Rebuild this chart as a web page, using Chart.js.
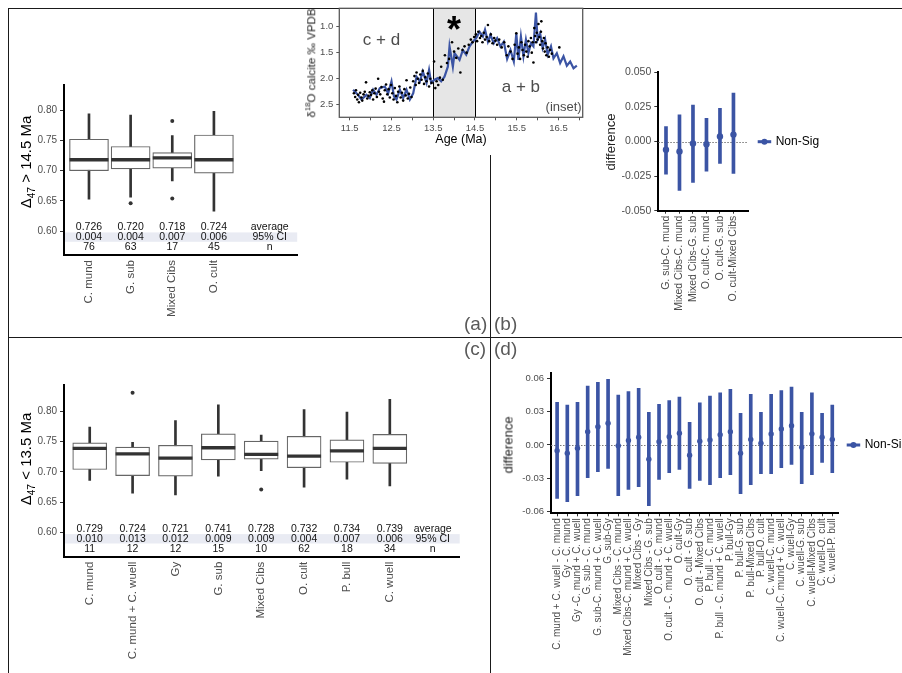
<!DOCTYPE html>
<html>
<head>
<meta charset="utf-8">
<script src="https://cdn.jsdelivr.net/npm/chart.js@4/dist/chart.umd.min.js"></script>
<style>
    html, body { margin: 0; padding: 0; background: #fff; }
    body { width: 902px; height: 673px; position: relative; overflow: hidden; font-family: "Liberation Sans", Arial, sans-serif; }
    .pane { position: absolute; }
    .rule { position: absolute; background: #1a1a1a; }
    .ytitle { position: absolute; transform: translate(-50%, -50%) rotate(-90deg); white-space: nowrap; color: #000; line-height: 1; font-weight: normal; }
    .xtitle { position: absolute; transform: translate(-50%, -50%); white-space: nowrap; color: #000; line-height: 1; font-weight: normal; }
    .ytitle sub, .ytitle sup { font-size: 68%; line-height: 0; }
    .tag { position: absolute; font-size: 19px; color: #595959; line-height: 1; }
</style>
</head>
<body>

<div class="rule" style="left:8px; top:8px; width:894px; height:1px;"></div>
<div class="rule" style="left:8px; top:8px; width:1px; height:665px;"></div>
<div class="rule" style="left:8px; top:337px; width:894px; height:1px;"></div>
<div class="rule" style="left:490px; top:155px; width:1px; height:518px;"></div>

<div class="pane" style="left:10px; top:62px;"><canvas id="chart-a" width="310" height="270"></canvas></div>
<div class="pane" style="left:595px; top:62px;"><canvas id="chart-b" width="300" height="260"></canvas></div>
<div class="pane" style="left:10px; top:365px;"><canvas id="chart-c" width="470" height="305"></canvas></div>
<div class="pane" style="left:495px; top:365px;"><canvas id="chart-d" width="407" height="308"></canvas></div>
<div class="pane" style="left:300px; top:0px;"><canvas id="chart-inset" width="290" height="150"></canvas></div>

<div class="ytitle" style="left:25px; top:162px; font-size:15px;">Δ<sub>47</sub> &gt; 14.5 Ma</div>
<div class="ytitle" style="left:25px; top:459px; font-size:15px;">Δ<sub>47</sub> &lt; 13.5 Ma</div>
<div class="ytitle" style="left:610px; top:142px; font-size:13px; color:#222;">difference</div>
<div class="ytitle" style="left:508px; top:445px; font-size:13px; color:#222;">difference</div>
<div class="ytitle" style="left:312px; top:63px; font-size:11.5px; color:#222;">δ<sup>18</sup>O calcite ‰ VPDB</div>
<div class="xtitle" style="left:461px; top:139px; font-size:12.5px;">Age (Ma)</div>

<div class="tag" style="left:464px; top:314px;">(a)</div>
<div class="tag" style="left:494px; top:314px;">(b)</div>
<div class="tag" style="left:464px; top:339px;">(c)</div>
<div class="tag" style="left:494px; top:339px;">(d)</div>

<script>
// Δ47 boxplots, pairwise differences and the δ18O inset

const BLUE = '#3b54a4';
const FONT = '"Liberation Sans", Arial, sans-serif';

// ---- panel (a): > 14.5 Ma ----
const catsA = ['C. mund', 'G. sub', 'Mixed Cibs', 'O. cult'];
const lowA = [0.653, 0.656, 0.683, 0.633];
const q1A = [0.700, 0.703, 0.704, 0.696];
const medA = [0.718, 0.718, 0.721, 0.718];
const q3A = [0.752, 0.740, 0.730, 0.759];
const highA = [0.794, 0.792, 0.758, 0.798];
const outCatA = [2, 3, 3];
const outValA = [0.646, 0.782, 0.654];
const avgA = ['0.726', '0.720', '0.718', '0.724'];
const ciA = ['0.004', '0.004', '0.007', '0.006'];
const nA = ['76', '63', '17', '45'];

// ---- panel (c): < 13.5 Ma ----
const catsC = ['C. mund', 'C. mund + C. wuell', 'Gy', 'G. sub', 'Mixed Cibs', 'O. cult', 'P. bull', 'C. wuell'];
const lowC = [0.686, 0.665, 0.662, 0.693, 0.702, 0.675, 0.688, 0.677];
const q1C = [0.704, 0.694, 0.693, 0.720, 0.721, 0.707, 0.716, 0.714];
const medC = [0.739, 0.730, 0.723, 0.740, 0.729, 0.726, 0.735, 0.739];
const q3C = [0.748, 0.741, 0.744, 0.763, 0.751, 0.759, 0.753, 0.762];
const highC = [0.774, 0.749, 0.785, 0.811, 0.761, 0.803, 0.799, 0.820];
const outCatC = [2, 5];
const outValC = [0.831, 0.671];
const avgC = ['0.729', '0.724', '0.721', '0.741', '0.728', '0.732', '0.734', '0.739'];
const ciC = ['0.010', '0.013', '0.012', '0.009', '0.009', '0.004', '0.007', '0.006'];
const nC = ['11', '12', '12', '15', '10', '62', '18', '34'];

const boxTicks = [0.60, 0.65, 0.70, 0.75, 0.80];

// ---- panel (b): pairwise differences, > 14.5 Ma ----
const pairsB = ['G. sub-C. mund', 'Mixed Cibs-C. mund', 'Mixed Cibs-G. sub', 'O. cult-C. mund', 'O. cult-G. sub', 'O. cult-Mixed Cibs'];
const diffB = [-0.0060, -0.0072, -0.0014, -0.0020, 0.0036, 0.0050];
const lwrB = [-0.0236, -0.0353, -0.0296, -0.0214, -0.0159, -0.0230];
const uprB = [0.0108, 0.0192, 0.0264, 0.0168, 0.0240, 0.0350];
const ticksB = [-0.050, -0.025, 0, 0.025, 0.050];

// ---- panel (d): pairwise differences, < 13.5 Ma ----
const pairsD = [
    'C. mund + C. wuell - C. mund', 'Gy - C. mund', 'Gy -C. mund + C. wuell', 'G. sub - C. mund',
    'G. sub-C. mund + C. wuell', 'G. sub-Gy', 'Mixed Cibs - C. mund', 'Mixed Cibs-C. mund + C. wuell',
    'Mixed Cibs - Gy', 'Mixed Cibs - G. sub', 'O. cult - C. mund', 'O. cult - C. mund + C. wuell',
    'O. cult-Gy', 'O. cult - G. sub', 'O. cult - Mixed Cibs', 'P. bull - C. mund',
    'P. bull - C. mund + C. wuell', 'P. bull-Gy', 'P. bull-G. sub', 'P. bull-Mixed Cibs',
    'P. bull-O. cult', 'C. wuell-C. mund', 'C. wuell-C. mund + C. wuell', 'C. wuell-Gy',
    'C. wuell-G. sub', 'C. wuell-Mixed Cibs', 'C. wuell-O. cult', 'C. wuell-P. bull'
];
const diffD = [-0.0051, -0.0075, -0.0030, 0.0120, 0.0165, 0.0195, -0.0006, 0.0040, 0.0070, -0.0129,
    0.0030, 0.0075, 0.0105, -0.0093, 0.0033, 0.0045, 0.0093, 0.0120, -0.0075, 0.0050,
    0.0015, 0.0099, 0.0144, 0.0174, -0.0020, 0.0100, 0.0070, 0.0050];
const uprD = [0.0384, 0.0360, 0.0384, 0.0530, 0.0564, 0.0590, 0.0450, 0.0480, 0.0510, 0.0294,
    0.0366, 0.0400, 0.0430, 0.0204, 0.0380, 0.0440, 0.0470, 0.0500, 0.0285, 0.0456,
    0.0294, 0.0456, 0.0490, 0.0520, 0.0294, 0.0470, 0.0285, 0.0360];
const lwrD = [-0.0480, -0.0510, -0.0456, -0.0294, -0.0240, -0.0210, -0.0456, -0.0400, -0.0375, -0.0546,
    -0.0310, -0.0250, -0.0220, -0.0390, -0.0320, -0.0357, -0.0294, -0.0267, -0.0438, -0.0357,
    -0.0258, -0.0258, -0.0204, -0.0174, -0.0348, -0.0267, -0.0156, -0.0250];
const ticksD = [-0.06, -0.03, 0, 0.03, 0.06];

// ---- inset: benthic δ18O record ----
const lineAge = [11.58, 11.70, 11.78, 11.90, 11.98, 12.06, 12.14, 12.22, 12.34, 12.42, 12.50, 12.56, 12.62, 12.70,
    12.78, 12.86, 12.94, 13.02, 13.10, 13.18, 13.25, 13.34, 13.40, 13.45, 13.53, 13.61, 13.69, 13.77,
    13.85, 13.89, 13.97, 14.01, 14.13, 14.21, 14.29, 14.37, 14.45, 14.53, 14.61, 14.69, 14.74, 14.81,
    14.87, 14.95, 15.03, 15.11, 15.19, 15.27, 15.35, 15.43, 15.49, 15.54, 15.60, 15.66, 15.72, 15.78,
    15.84, 15.90, 15.96, 16.00, 16.06, 16.12, 16.18, 16.24, 16.32, 16.38, 16.46, 16.54, 16.62, 16.70,
    16.78, 16.86, 16.94];
const lineD18O = [2.21, 2.31, 2.40, 2.31, 2.37, 2.21, 2.31, 2.18, 2.15, 2.28, 2.05, 2.34, 2.40, 2.21,
    2.37, 2.21, 2.40, 2.28, 1.96, 2.05, 1.86, 2.08, 1.83, 2.08, 2.02, 1.99, 2.05, 1.96,
    1.77, 1.38, 1.77, 1.51, 1.64, 1.45, 1.54, 1.38, 1.29, 1.22, 1.10, 1.19, 1.06, 1.29,
    1.16, 1.32, 1.22, 1.38, 1.29, 1.62, 1.45, 1.67, 1.13, 1.64, 1.19, 1.57, 1.25, 1.51,
    1.32, 1.38, 0.73, 1.25, 1.13, 1.41, 1.25, 1.54, 1.38, 1.61, 1.51, 1.70, 1.57, 1.75,
    1.67, 1.80, 1.75];
const insetDots = [
    [11.60, 2.28], [11.63, 2.35], [11.65, 2.22], [11.68, 2.40], [11.70, 2.31], [11.72, 2.45], [11.75, 2.27],
    [11.78, 2.36], [11.80, 2.42], [11.83, 2.30], [11.86, 2.25], [11.89, 2.07], [11.92, 2.38], [11.95, 2.33],
    [11.98, 2.26], [12.01, 2.31], [12.04, 2.22], [12.06, 2.40], [12.09, 2.28], [12.12, 2.19], [12.15, 2.35],
    [12.18, 2.00], [12.20, 2.25], [12.23, 2.30], [12.26, 2.16], [12.29, 2.38], [12.32, 2.44], [12.34, 2.22],
    [12.37, 2.11], [12.40, 2.30], [12.43, 2.20], [12.46, 2.36], [12.49, 2.12], [12.52, 2.28], [12.55, 2.40],
    [12.58, 2.18], [12.61, 2.33], [12.64, 2.45], [12.66, 2.25], [12.69, 2.15], [12.72, 2.36], [12.75, 2.27],
    [12.78, 2.42], [12.81, 2.20], [12.84, 2.32], [12.86, 2.03], [12.89, 2.38], [12.92, 2.29], [12.95, 2.17],
    [12.98, 2.35], [13.02, 2.05], [13.05, 1.95], [13.08, 2.12], [13.10, 1.88], [13.13, 2.00], [13.16, 2.08],
    [13.19, 1.92], [13.22, 2.02], [13.25, 1.85], [13.28, 2.10], [13.31, 1.97], [13.34, 2.05], [13.37, 1.90],
    [13.40, 2.15], [13.43, 2.00], [13.46, 2.08], [13.52, 1.67], [13.55, 2.18], [13.58, 2.05], [13.62, 2.12],
    [13.66, 1.98], [13.69, 1.77], [13.73, 2.02], [13.78, 1.55], [13.83, 1.70], [13.88, 1.62], [13.95, 1.30],
    [14.00, 1.48], [14.05, 1.60], [14.10, 1.42], [14.15, 1.88], [14.20, 1.45], [14.25, 1.38], [14.30, 1.50],
    [14.35, 1.35], [14.40, 1.25], [14.44, 1.30], [14.48, 1.20], [14.52, 1.15], [14.55, 1.28], [14.58, 1.10],
    [14.62, 1.22], [14.65, 1.18], [14.68, 1.30], [14.71, 1.12], [14.74, 1.25], [14.78, 1.20], [14.81, 0.97],
    [14.84, 1.28], [14.88, 1.15], [14.92, 1.32], [14.96, 1.22], [14.99, 1.27], [15.03, 1.35], [15.08, 1.25],
    [15.14, 1.40], [15.20, 1.30], [15.26, 1.55], [15.30, 1.38], [15.35, 1.48], [15.40, 1.62], [15.45, 1.35],
    [15.49, 1.13], [15.52, 1.52], [15.55, 1.40], [15.58, 1.62], [15.61, 1.30], [15.64, 1.45], [15.67, 1.55],
    [15.70, 1.35], [15.73, 1.48], [15.76, 1.58], [15.78, 1.28], [15.81, 1.38], [15.84, 1.22], [15.86, 1.50],
    [15.88, 1.30], [15.90, 1.69], [15.92, 1.03], [15.94, 1.18], [15.96, 1.30], [15.98, 1.12], [16.00, 1.25],
    [16.02, 0.95], [16.04, 1.20], [16.06, 1.35], [16.08, 1.10], [16.09, 0.90], [16.11, 1.28], [16.13, 1.42],
    [16.15, 1.22], [16.17, 1.48], [16.19, 1.32], [16.21, 1.55], [16.24, 1.40], [16.27, 1.58], [16.30, 1.45],
    [16.34, 1.52], [16.52, 1.40]
];
const ageTicks = [11.5, 12, 12.5, 13, 13.5, 14, 14.5, 15, 15.5, 16, 16.5, 17];
const ageLabels = [11.5, 12.5, 13.5, 14.5, 15.5, 16.5];
const d18OTicks = [1.0, 1.5, 2.0, 2.5];

Chart.defaults.font.family = FONT;
Chart.defaults.animation = false;
Chart.defaults.events = [];
Chart.defaults.plugins.legend.display = false;
Chart.defaults.plugins.tooltip.enabled = false;

// force the axis box to a fixed size so the plot area lands where the figure has it
function pin(prop, size) {
    return s => {
        s[prop] = size;
        s.paddingLeft = s.paddingRight = s.paddingTop = s.paddingBottom = 0;
    };
}

function tickList(values) {
    return s => { s.ticks = values.map(v => ({ value: v })); };
}

function tableRows(avg, ci, n, extraX) {
    return {
        id: 'tableRows',
        beforeDatasetsDraw(chart) {
            const { ctx, chartArea: a } = chart;
            ctx.save();
            ctx.fillStyle = '#e9ebf3';
            ctx.fillRect(a.left + 1, a.bottom - 22.6, a.right - a.left - 1, 9.4);
            ctx.restore();
        },
        afterDatasetsDraw(chart) {
            const { ctx, chartArea: a, scales: { x } } = chart;
            const rows = [avg, ci, n];
            const heads = ['average', '95% CI', 'n'];
            const offs = [28, 17.8, 7.9];
            ctx.save();
            ctx.font = '10.5px ' + FONT;
            ctx.fillStyle = '#111';
            ctx.textAlign = 'center';
            ctx.textBaseline = 'middle';
            rows.forEach((row, r) => {
                const y = a.bottom - offs[r];
                row.forEach((t, i) => ctx.fillText(t, x.getPixelForValue(i + 1), y));
                ctx.fillText(heads[r], x.getPixelForValue(extraX), y);
            });
            ctx.restore();
        }
    };
}

function makeBoxChart(id, d, f) {
    const idx = d.cats.map((_, i) => i + 1);
    new Chart(document.getElementById(id), {
        type: 'bar',
        data: {
            datasets: [
                {
                    type: 'scatter', order: 0,
                    data: idx.map((x, i) => ({ x, y: d.med[i] })),
                    pointStyle: 'line', pointRadius: f.boxW / 2,
                    borderColor: '#333', pointBorderWidth: 3.3, pointBorderColor: '#333'
                },
                {
                    type: 'scatter', order: 0,
                    data: d.outCat.map((c, i) => ({ x: c, y: d.outVal[i] })),
                    backgroundColor: '#333', borderColor: '#333',
                    pointRadius: 2, pointBackgroundColor: '#333', pointBorderWidth: 0
                },
                {
                    order: 1, grouped: false, categoryPercentage: 1, barPercentage: 1,
                    data: idx.map((x, i) => ({ x, y: [d.q1[i], d.q3[i]] })),
                    backgroundColor: '#fff', borderColor: '#666', borderWidth: 1.2,
                    borderSkipped: false, maxBarThickness: f.boxW
                },
                {
                    order: 2, grouped: false, categoryPercentage: 1, barPercentage: 1,
                    data: idx.map((x, i) => ({ x, y: [d.low[i], d.high[i]] })),
                    backgroundColor: '#333', borderWidth: 0, maxBarThickness: 2
                }
            ]
        },
        options: {
            responsive: false,
            layout: { padding: { left: 0, top: f.top, right: f.right, bottom: 0 } },
            scales: {
                x: {
                    type: 'linear', min: 0.4, max: f.xMax, offset: false,
                    afterBuildTicks: tickList(idx),
                    afterFit: pin('height', f.xh),
                    ticks: {
                        autoSkip: false, minRotation: 90, maxRotation: 90, padding: 2,
                        color: '#4d4d4d', font: { size: 11.5 },
                        callback: v => d.cats[Math.round(v) - 1]
                    },
                    grid: { offset: false, drawOnChartArea: false, tickLength: 3, color: 'rgba(0,0,0,0)' },
                    border: { color: '#000', width: 2 }
                },
                y: {
                    type: 'linear', min: f.yMin, max: f.yMax,
                    afterBuildTicks: tickList(boxTicks),
                    afterFit: pin('width', f.yw),
                    ticks: { padding: 3, color: '#4d4d4d', font: { size: 10 }, callback: v => v.toFixed(2) },
                    grid: { drawOnChartArea: false, tickLength: 4, color: '#333' },
                    border: { color: '#000', width: 2 }
                }
            }
        },
        plugins: [tableRows(d.avg, d.ci, d.n, f.extraX)]
    });
}

const zeroLine = {
    id: 'zeroLine',
    beforeDatasetsDraw(chart) {
        const { ctx, chartArea: a, scales: { y } } = chart;
        const py = Math.round(y.getPixelForValue(0)) + 0.5;
        ctx.save();
        ctx.strokeStyle = '#777';
        ctx.lineWidth = 1;
        ctx.setLineDash([1.5, 1.5]);
        ctx.beginPath();
        ctx.moveTo(a.left, py);
        ctx.lineTo(a.right, py);
        ctx.stroke();
        ctx.restore();
    }
};

function keyBox(lx, ly) {
    return {
        id: 'keyBox',
        afterDraw(chart) {
            const ctx = chart.ctx;
            ctx.save();
            ctx.strokeStyle = BLUE;
            ctx.lineWidth = 3;
            ctx.beginPath();
            ctx.moveTo(lx, ly);
            ctx.lineTo(lx + 13.5, ly);
            ctx.stroke();
            ctx.fillStyle = BLUE;
            ctx.beginPath();
            ctx.arc(lx + 6.75, ly, 3, 0, Math.PI * 2);
            ctx.fill();
            ctx.fillStyle = '#000';
            ctx.font = '12px ' + FONT;
            ctx.textBaseline = 'middle';
            ctx.fillText('Non-Sig', lx + 18, ly);
            ctx.restore();
        }
    };
}

function makeDiffChart(id, d, f) {
    const idx = d.pairs.map((_, i) => i + 1);
    new Chart(document.getElementById(id), {
        type: 'bar',
        data: {
            datasets: [
                {
                    type: 'scatter', order: 0,
                    data: idx.map((x, i) => ({ x, y: d.diff[i] })),
                    backgroundColor: BLUE, borderColor: BLUE,
                    pointRadius: f.dot, pointBackgroundColor: BLUE, pointBorderColor: BLUE, pointBorderWidth: 0
                },
                {
                    order: 1, grouped: false, categoryPercentage: 1, barPercentage: 1,
                    data: idx.map((x, i) => ({ x, y: [d.lwr[i], d.upr[i]] })),
                    backgroundColor: BLUE, borderColor: BLUE, borderWidth: 0, maxBarThickness: 3
                }
            ]
        },
        options: {
            responsive: false,
            layout: { padding: { left: 0, top: f.top, right: f.right, bottom: 0 } },
            scales: {
                x: {
                    type: 'linear', min: f.xMin, max: f.xMax, offset: false,
                    afterBuildTicks: tickList(idx),
                    afterFit: pin('height', f.xh),
                    ticks: {
                        autoSkip: false, minRotation: 90, maxRotation: 90, padding: 2,
                        color: '#4d4d4d', font: { size: f.xFont },
                        callback: v => d.pairs[Math.round(v) - 1]
                    },
                    grid: { offset: false, drawOnChartArea: false, tickLength: 3, color: '#333' },
                    border: { color: '#000', width: 2 }
                },
                y: {
                    type: 'linear', min: f.yMin, max: f.yMax,
                    afterBuildTicks: tickList(d.ticks),
                    afterFit: pin('width', f.yw),
                    ticks: { padding: 3, color: '#4d4d4d', font: { size: f.yFont }, callback: v => v.toFixed(f.digits) },
                    grid: { drawOnChartArea: false, tickLength: 4, color: '#333' },
                    border: { color: '#000', width: 2 }
                }
            }
        },
        plugins: [zeroLine, keyBox(f.keyX, f.keyY)]
    });
}

makeBoxChart('chart-a',
    { cats: catsA, low: lowA, q1: q1A, med: medA, q3: q3A, high: highA, outCat: outCatA, outVal: outValA, avg: avgA, ci: ciA, n: nA },
    { top: 10, right: 8, yw: 54, xh: 77, xMax: 6.0, yMin: 0.5605, yMax: 0.842, extraX: 5.34, boxW: 39 });

makeBoxChart('chart-c',
    { cats: catsC, low: lowC, q1: q1C, med: medC, q3: q3C, high: highC, outCat: outCatC, outVal: outValC, avg: avgC, ci: ciC, n: nC },
    { top: 8.3, right: 6, yw: 54, xh: 113.3, xMax: 9.63, yMin: 0.5598, yMax: 0.8433, extraX: 9, boxW: 34 });

makeDiffChart('chart-b',
    { pairs: pairsB, diff: diffB, lwr: lwrB, upr: uprB, ticks: ticksB },
    { top: 10.3, right: 146.7, yw: 63.3, xh: 111.3, xMin: 0.43, xMax: 7.1, yMin: -0.05, yMax: 0.05,
      xFont: 10.5, yFont: 10.5, digits: 3, dot: 3.2, keyX: 162.7, keyY: 79.7 });

makeDiffChart('chart-d',
    { pairs: pairsD, diff: diffD, lwr: lwrD, upr: uprD, ticks: ticksD },
    { top: 8.3, right: 63.6, yw: 56, xh: 159.7, xMin: 0.4, xMax: 28.6, yMin: -0.0615, yMax: 0.0645,
      xFont: 10, yFont: 9.5, digits: 2, dot: 2.7, keyX: 351.7, keyY: 80 });

// inset: shaded 13.5-14.5 Ma window, labels and panel border
const insetDecor = {
    id: 'insetDecor',
    beforeDatasetsDraw(chart) {
        const { ctx, chartArea: a, scales: { x } } = chart;
        const x0 = x.getPixelForValue(13.5), x1 = x.getPixelForValue(14.5);
        ctx.save();
        ctx.fillStyle = '#e6e6e6';
        ctx.fillRect(x0, a.top, x1 - x0, a.bottom - a.top);
        ctx.strokeStyle = '#000';
        ctx.lineWidth = 1;
        ctx.beginPath();
        ctx.moveTo(Math.round(x0) + 0.5, a.top);
        ctx.lineTo(Math.round(x0) + 0.5, a.bottom);
        ctx.moveTo(Math.round(x1) + 0.5, a.top);
        ctx.lineTo(Math.round(x1) + 0.5, a.bottom);
        ctx.stroke();
        ctx.restore();
    },
    afterDatasetsDraw(chart) {
        const { ctx, chartArea: a, scales: { x, y } } = chart;
        ctx.save();
        ctx.fillStyle = '#4d4d4d';
        ctx.textAlign = 'center';
        ctx.textBaseline = 'middle';
        ctx.font = '17px ' + FONT;
        ctx.fillText('c + d', x.getPixelForValue(12.26), y.getPixelForValue(1.26));
        ctx.fillText('a + b', x.getPixelForValue(15.6), y.getPixelForValue(2.17));
        ctx.font = '13px ' + FONT;
        ctx.textAlign = 'right';
        ctx.fillText('(inset)', a.right - 1, y.getPixelForValue(2.56));
        ctx.fillStyle = '#000';
        ctx.textAlign = 'center';
        ctx.textBaseline = 'alphabetic';
        ctx.font = 'bold 36px ' + FONT;
        ctx.fillText('*', x.getPixelForValue(14.0), y.getPixelForValue(0.907) + 20);
        ctx.strokeStyle = '#5a5a5a';
        ctx.lineWidth = 1.3;
        ctx.strokeRect(a.left, a.top, a.right - a.left, a.bottom - a.top);
        ctx.restore();
    }
};

new Chart(document.getElementById('chart-inset'), {
    type: 'scatter',
    data: {
        datasets: [
            {
                order: 0,
                data: insetDots.map(([x, y]) => ({ x, y })),
                backgroundColor: '#000', borderColor: '#000',
                pointRadius: 1.3, pointBackgroundColor: '#000', pointBorderWidth: 0
            },
            {
                order: 1, showLine: true,
                data: lineAge.map((x, i) => ({ x, y: lineD18O[i] })),
                pointRadius: 0, borderColor: BLUE, borderWidth: 2.2, tension: 0
            }
        ]
    },
    options: {
        responsive: false,
        layout: { padding: { left: 0, top: 8.3, right: 7.3, bottom: 0 } },
        scales: {
            x: {
                type: 'linear', min: 11.25, max: 17.08,
                afterBuildTicks: tickList(ageTicks),
                afterFit: pin('height', 32.7),
                ticks: {
                    autoSkip: false, maxRotation: 0, padding: 2, color: '#4d4d4d', font: { size: 9.5 },
                    callback: v => ageLabels.includes(v) ? v.toFixed(1) : ''
                },
                grid: { drawOnChartArea: false, tickLength: 3, color: '#555' },
                border: { display: false }
            },
            y: {
                type: 'linear', reverse: true, min: 0.65, max: 2.74,
                afterBuildTicks: tickList(d18OTicks),
                afterFit: pin('width', 39.3),
                ticks: { padding: 3, color: '#4d4d4d', font: { size: 9.5 }, callback: v => v.toFixed(1) },
                grid: { drawOnChartArea: false, tickLength: 3, color: '#555' },
                border: { display: false }
            }
        }
    },
    plugins: [insetDecor]
});
</script>
</body>
</html>
